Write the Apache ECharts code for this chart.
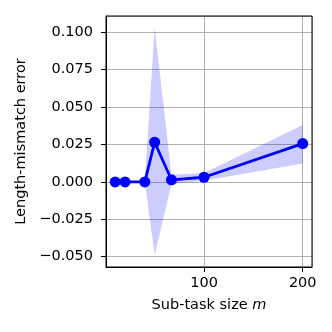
<!DOCTYPE html>
<html lang="en">
<head>
<meta charset="UTF-8"/>
<script src="https://cdn.jsdelivr.net/npm/echarts@6/dist/echarts.min.js"></script>
<title>Length-mismatch error</title>
<style>
  html, body { margin: 0; padding: 0; background: #fff; }
</style>
</head>
<body>
<div id="main" style="width:332px; height:332px;"></div>
<script type="text/javascript">
    // sub-task sizes and mean error
    var sizes = [10, 20, 40, 50, 67, 100, 200];
    var meanErr = [0, 0, 0, 0.0265, 0.0014, 0.0031, 0.0256];
    // shaded band
    var bandLow = [0, 0, 0, -0.0489, -0.0015, 0.0007, 0.0123];
    var bandHigh = [0, 0, 0, 0.1031, 0.0047, 0.006, 0.038];

    var fontFam = 'DejaVu Sans';
    var fs = 14.5;
    var myChart = echarts.init(document.getElementById('main'));

    var lineData = sizes.map(function (s, i) { return [s, meanErr[i]]; });
    var bandData = sizes.map(function (s, i) { return [s, bandLow[i], bandHigh[i]]; });

    function fmtY(v) {
        var k = v / 0.025;
        if (Math.abs(k - Math.round(k)) > 1e-6) return '';
        var s = Math.abs(v).toFixed(3);
        return (v < -1e-9 ? '\u2212' : '') + s;
    }

    var option = {
        animation: false,
        grid: { left: 106, right: 20, top: 16, bottom: 65 },
        xAxis: {
            type: 'value',
            min: 0.7, max: 209.4,
            minInterval: 100, maxInterval: 100,
            name: 'Sub-task size {i|m}',
            nameLocation: 'middle',
            nameGap: 31,
            nameTextStyle: {
                fontFamily: fontFam, fontSize: fs, color: '#000',
                rich: { i: { fontStyle: 'italic', fontFamily: fontFam, fontSize: fs, color: '#000' } }
            },
            axisLine: { onZero: false, lineStyle: { color: '#000', width: 1 } },
            axisTick: { length: 5, lineStyle: { color: '#000' } },
            axisLabel: {
                fontFamily: fontFam, fontSize: fs, color: '#000', margin: 9,
                showMinLabel: false, showMaxLabel: false,
                formatter: function (v) { return (v % 100 === 0 && v > 0) ? String(v) : ''; }
            },
            splitLine: { show: true, lineStyle: { color: '#b0b0b0', width: 1 } }
        },
        yAxis: {
            type: 'value',
            min: -0.0569, max: 0.1109,
            minInterval: 0.025, maxInterval: 0.025,
            name: 'Length-mismatch error',
            nameLocation: 'middle',
            nameGap: 63,
            nameTextStyle: { fontFamily: fontFam, fontSize: fs, color: '#000' },
            axisLine: { show: true, lineStyle: { color: '#000', width: 1 } },
            axisTick: { show: true, length: 5, lineStyle: { color: '#000' } },
            axisLabel: {
                fontFamily: fontFam, fontSize: fs, color: '#000', margin: 13,
                showMinLabel: false, showMaxLabel: false,
                formatter: fmtY
            },
            splitLine: { show: true, lineStyle: { color: '#b0b0b0', width: 1 } }
        },
        series: [
            {
                type: 'custom',
                data: bandData,
                encode: { x: 0, y: [1, 2] },
                z: 1,
                renderItem: function (params, api) {
                    if (params.dataIndex !== 0) return null;
                    var pts = [];
                    var i;
                    for (i = 0; i < sizes.length; i++) pts.push(api.coord([sizes[i], bandHigh[i]]));
                    for (i = sizes.length - 1; i >= 0; i--) pts.push(api.coord([sizes[i], bandLow[i]]));
                    return {
                        type: 'polygon',
                        shape: { points: pts },
                        style: { fill: 'rgba(0,0,255,0.2)', stroke: null }
                    };
                }
            },
            {
                type: 'line',
                data: lineData,
                z: 3,
                symbol: 'circle',
                symbolSize: 11,
                lineStyle: { color: '#0000ff', width: 2.8 },
                itemStyle: { color: '#0000ff' }
            }
        ],
        graphic: [{
            type: 'rect',
            shape: { x: 106, y: 16, width: 206, height: 251 },
            style: { fill: null, stroke: '#000', lineWidth: 1 },
            z: 10
        }]
    };

    myChart.setOption(option);
</script>
</body>
</html>
